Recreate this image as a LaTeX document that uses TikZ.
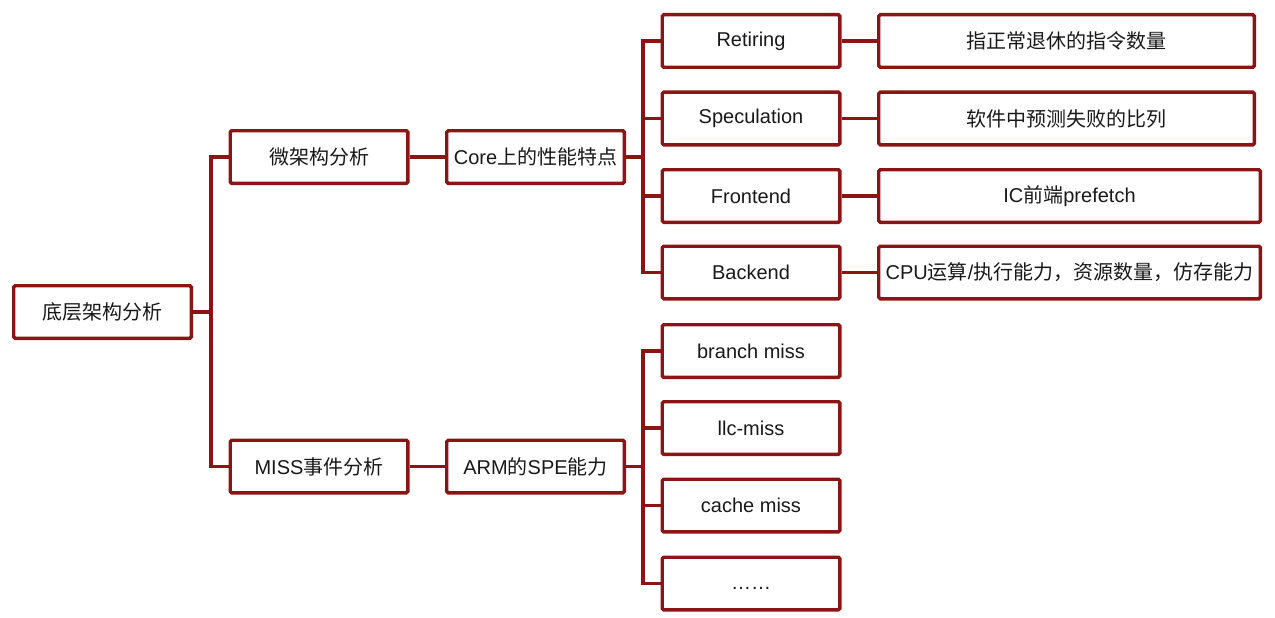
\documentclass[tikz,border=0pt]{standalone}
\usepackage{fontspec}
\setmainfont{Liberation Sans}
\newfontfamily\cjk{Noto Sans CJK SC}
\definecolor{boxred}{RGB}{140,20,20}
\definecolor{txt}{RGB}{25,25,25}
\tikzset{
  box/.style={draw=boxred, line width=3.4pt, rounded corners=1.5pt, fill=white,
    minimum width=177.6pt, minimum height=52.6pt, inner sep=0pt,
    font=\fontsize{20}{23}\selectfont, text=txt},
  wbox/.style={box, minimum width=375.6pt},
  wwbox/.style={box, minimum width=381.6pt},
  conn/.style={draw=boxred, line width=3.4pt}
}
\begin{document}
\begin{tikzpicture}[x=1pt,y=-1pt]
\useasboundingbox (0,0) rectangle (1275,618);
% nodes
\node[box] (root) at (102.5,312) {{\cjk 底层架构分析}};
\node[box] (micro) at (319,157) {{\cjk 微架构分析}};
\node[box] (core) at (535.5,157) {Core{\cjk 上的性能特点}};
\node[box] (miss) at (319,466.5) {MISS{\cjk 事件分析}};
\node[box] (arm) at (535.5,466.5) {ARM{\cjk 的}SPE{\cjk 能力}};
\node[box] (ret) at (751,41) {Retiring};
\node[box] (spec) at (751,118.5) {Speculation};
\node[box] (front) at (751,196) {Frontend};
\node[box] (back) at (751,272.5) {Backend};
\node[wbox] (ret2) at (1066.5,41) {{\cjk 指正常退休的指令数量}};
\node[wbox] (spec2) at (1066.5,118.5) {{\cjk 软件中预测失败的比列}};
\node[wwbox] (front2) at (1069.5,196) {IC{\cjk 前端}prefetch};
\node[wwbox] (back2) at (1069.5,272.5) {CPU{\cjk 运算}/{\cjk 执行能力，资源数量，仿存能力}};
\node[box] (br) at (751,351) {branch miss};
\node[box] (llc) at (751,428) {llc-miss};
\node[box] (cm) at (751,505.5) {cache miss};
\node[box] (dots) at (751,583.5) {\raisebox{-6pt}[0pt][0pt]{……}};
% junctions
\coordinate (t1) at (211,312);
\coordinate (t2) at (643,157);
\coordinate (t3) at (643,466.5);
% connectors
\draw[conn] (root.east) -- (t1);
\draw[conn] (micro.west) -| (t1) |- (miss.west);
\draw[conn] (micro.east) -- (core.west);
\draw[conn] (miss.east) -- (arm.west);
\draw[conn] (core.east) -- (t2);
\draw[conn] (ret.west) -| (t2) |- (back.west);
\draw[conn] (spec.west) -- (spec.west -| t2);
\draw[conn] (front.west) -- (front.west -| t2);
\draw[conn] (arm.east) -- (t3);
\draw[conn] (br.west) -| (t3) |- (dots.west);
\draw[conn] (llc.west) -- (llc.west -| t3);
\draw[conn] (cm.west) -- (cm.west -| t3);
\draw[conn] (ret.east) -- (ret2.west);
\draw[conn] (spec.east) -- (spec2.west);
\draw[conn] (front.east) -- (front2.west);
\draw[conn] (back.east) -- (back2.west);
\end{tikzpicture}
\end{document}
